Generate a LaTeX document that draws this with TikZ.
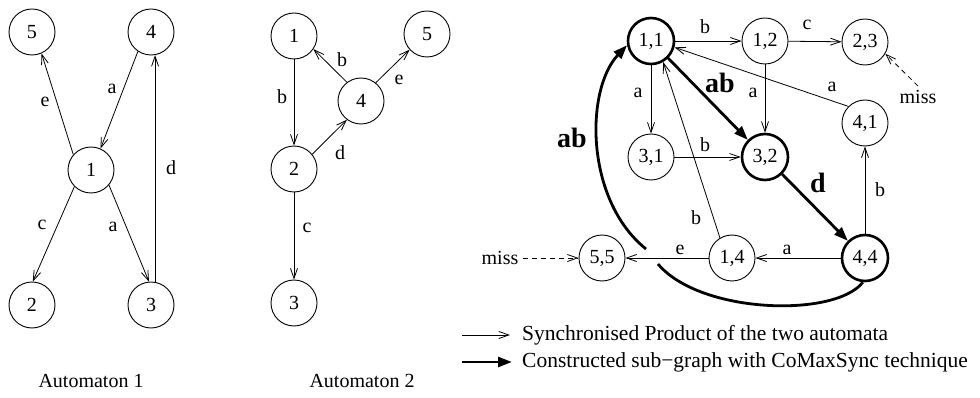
\documentclass[tikz,border=0pt]{standalone}
\usepackage{fontspec}
\setmainfont{Liberation Serif}
\usetikzlibrary{arrows.meta}

\begin{document}
\begin{tikzpicture}[x=1pt, y=-1pt,
    state/.style={circle, draw, line width=0.9pt, minimum size=46pt, inner sep=0pt,
        font=\fontsize{20}{24}\selectfont},
    bstate/.style={state, line width=2.6pt},
    edge/.style={line width=0.8pt, -{Straight Barb[length=10pt,width=7pt]}},
    bedge/.style={line width=2.8pt, -{Triangle[length=14pt,width=10pt]}},
    lbl/.style={font=\fontsize{20}{24}\selectfont, inner sep=0pt},
    blbl/.style={font=\fontsize{28}{32}\selectfont\bfseries, inner sep=0pt},
    keytext/.style={font=\fontsize{21.5}{25}\selectfont, inner sep=0pt, anchor=west},
    miss/.style={lbl, inner sep=4pt}]
    \useasboundingbox (0,0) rectangle (980,398);

    % --- 1. Automaton 1 ---
    \foreach \n/\x/\y in {5/32/32, 4/151/32, 1/91/170, 2/32/305, 3/151/305}
        \node[state] (a\n) at (\x,\y) {\n};
    \draw[edge] (a1.139) -- (a5.294);
    \draw[edge] (a4.236) -- (a1.66);
    \draw[edge] (a1.225) -- (a2.88);
    \draw[edge] (a1.320) -- (a3.95);
    \draw[edge] (a3.80) -- (a4.280);
    \node[lbl] (a-e) at (45,102) {e};
    \node[lbl] (a-a1) at (112,89) {a};
    \node[lbl] (a-d) at (171,168) {d};
    \node[lbl] (a-c) at (42,225) {c};
    \node[lbl] (a-a2) at (113,227) {a};
    \node[lbl] (a-title) at (91,381) {Automaton 1};

    % --- 2. Automaton 2 ---
    \foreach \n/\x/\y in {1/294/36, 5/427/34, 4/361/101, 2/294/169, 3/294/303}
        \node[state] (b\n) at (\x,\y) {\n};
    \draw[edge] (b1) -- (b2);
    \draw[edge] (b2) -- (b3);
    \draw[edge] (b4.127) -- (b1.326);
    \draw[edge] (b4.51) -- (b5.222);
    \draw[edge] (b2.39) -- (b4.233);
    \node[lbl] (b-b1) at (282,97) {b};
    \node[lbl] (b-b2) at (342,60) {b};
    \node[lbl] (b-e) at (399,80) {e};
    \node[lbl] (b-d) at (340,153) {d};
    \node[lbl] (b-c) at (307,228) {c};
    \node[lbl] (b-title) at (362,381) {Automaton 2};

    % --- 3. Synchronised product ---
    \foreach \n/\t/\x/\y in {12/{1,2}/765/41, 23/{2,3}/865/42, 41/{4,1}/865/123,
            31/{3,1}/651/157, 14/{1,4}/732/258, 55/{5,5}/602/258}
        \node[state] (p\n) at (\x,\y) {\t};
    % states kept by CoMaxSync
    \node[bstate] (p11) at (651,41) {1,1};
    \node[bstate] (p32) at (765,157) {3,2};
    \node[bstate] (p44) at (865,258) {4,4};

    \draw[edge] (p11) -- (p12);
    \draw[edge] (p12) -- (p23);
    \draw[edge] (p11) -- (p31);
    \draw[edge] (p12) -- (p32);
    \draw[edge] (p31) -- (p32);
    \draw[edge] (p41.135) -- (p11.345);
    \draw[edge] (p44) -- (p41);
    \draw[edge] (p44) -- (p14);
    \draw[edge] (p14) -- (p55);
    \draw[edge] (p14.121) -- (p11.300);

    \draw[bedge] (p11.315) -- (p32.135);
    \draw[bedge] (p32.315) -- (p44.135);
    % long way back to 1,1, broken where it passes the e edge
    \coordinate (gapL) at (646,249);
    \coordinate (gapR) at (658,264);
    \draw[line width=2.8pt] (p44.265) .. controls (835,318) and (700,314) .. (gapR);
    \draw[bedge] (gapL) .. controls (585,200) and (585,90) .. (p11.190);

    \node[lbl] (p-b1) at (705,27) {b};
    \node[lbl] (p-c) at (807,25) {c};
    \node[lbl] (p-a1) at (638,93) {a};
    \node[lbl] (p-a2) at (753,93) {a};
    \node[lbl] (p-a3) at (832,87) {a};
    \node[lbl] (p-b2) at (705,145) {b};
    \node[lbl] (p-b3) at (880,190) {b};
    \node[lbl] (p-b4) at (696,218) {b};
    \node[lbl] (p-e) at (680,250) {e};
    \node[lbl] (p-a4) at (787,250) {a};
    \node[blbl] (p-ab1) at (720,83) {ab};
    \node[blbl] (p-ab2) at (572,138) {ab};
    \node[blbl] (p-d) at (818,183) {d};

    % missing transitions
    \node[miss] (missL) at (500,258) {miss};
    \node[miss] (missR) at (918,97) {miss};
    \draw[edge, dash pattern=on 5pt off 4pt] (missL) -- (p55);
    \draw[edge, dash pattern=on 5pt off 4pt] (missR.north) -- (p23.330);

    % --- 4. Legend ---
    \coordinate (key1a) at (462,335);
    \coordinate (key1b) at (510,335);
    \draw[edge] (key1a) -- (key1b);
    \node[keytext] (key1) at (522,335) {Synchronised Product of the two automata};
    \coordinate (key2a) at (462,362);
    \coordinate (key2b) at (512,362);
    \draw[bedge] (key2a) -- (key2b);
    \node[keytext] (key2) at (522,362) {Constructed sub−graph with CoMaxSync technique};

\end{tikzpicture}
\end{document}
